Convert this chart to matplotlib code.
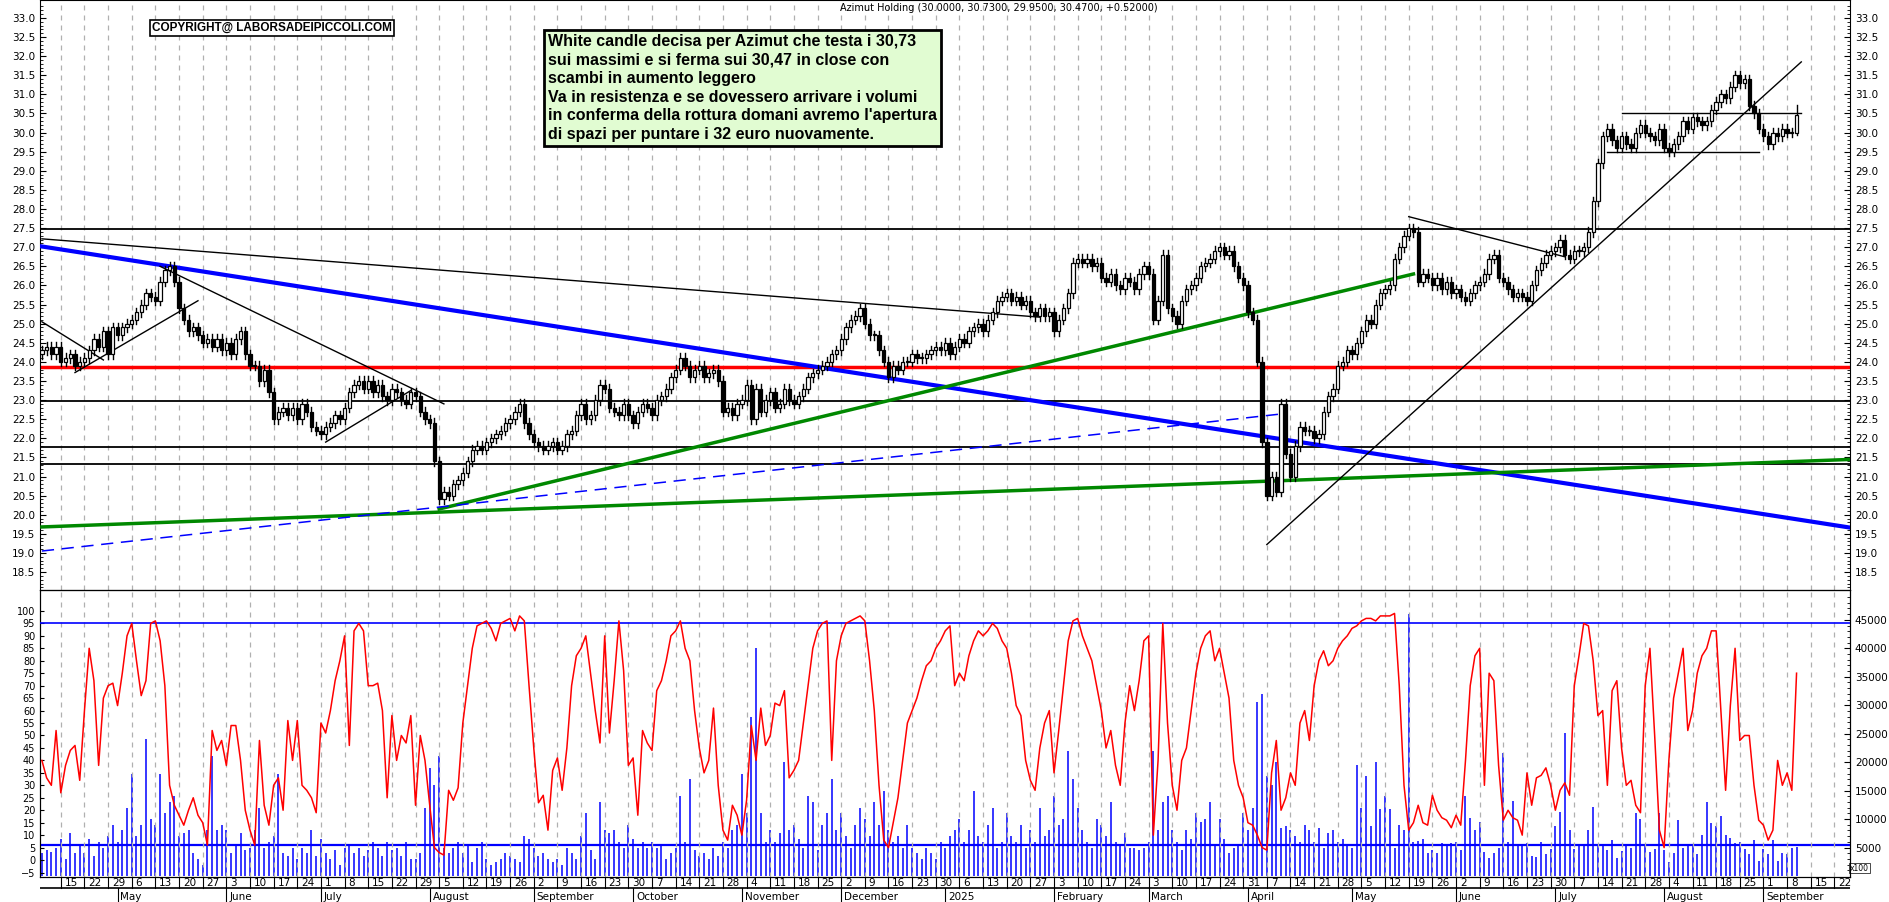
import matplotlib
matplotlib.use("Agg")
import matplotlib.pyplot as plt
import numpy as np
import pandas as pd

START = "2024-04-09"
END_AXIS = "2025-09-26"

# daily closes, one line per week (Mon-Fri)
closes = [
 24.3, 24.4, 24.2, 24.4,
 24.0, 24.1, 24.2, 23.9, 24.0,
 24.1, 24.3, 24.6, 24.4, 24.8,
 24.2, 24.9, 24.7, 24.9, 25.0,
 25.1, 25.3, 25.5, 25.8, 25.7,
 25.6, 26.1, 26.4, 26.5, 26.1,
 25.4, 25.1, 24.8, 24.9, 24.7,
 24.5, 24.6, 24.4, 24.6, 24.3,
 24.5, 24.2, 24.6, 24.8, 24.2,
 23.9, 23.9, 23.5, 23.8, 23.2,
 22.5, 22.7, 22.8, 22.6, 22.8,
 22.5, 22.9, 22.7, 22.3, 22.2,
 22.1, 22.3, 22.4, 22.6, 22.5,
 22.8, 23.2, 23.4, 23.5, 23.3,
 23.5, 23.2, 23.4, 23.1, 23.0,
 23.3, 23.2, 23.0, 22.9, 23.2,
 23.1, 22.7, 22.5, 22.4, 21.4,
 20.4, 20.6, 20.5, 20.8, 20.9,
 21.1, 21.4, 21.7, 21.8, 21.7,
 21.9, 22.0, 22.1, 22.2, 22.4,
 22.5, 22.7, 22.9, 22.4, 22.1,
 21.9, 21.8, 21.7, 21.8, 21.9,
 21.7, 21.8, 22.1, 22.2, 22.6,
 22.9, 22.5, 22.6, 23.0, 23.4,
 23.3, 22.8, 22.7, 22.6, 22.9,
 22.6, 22.4, 22.7, 22.9, 22.8,
 22.6, 23.0, 23.1, 23.3, 23.6,
 23.8, 24.1, 23.9, 23.6, 23.8,
 23.9, 23.6, 23.7, 23.8, 23.5,
 22.7, 22.8, 22.6, 22.9, 23.0,
 23.4, 22.5, 23.3, 22.7, 23.0,
 23.2, 22.8, 22.9, 23.3, 23.0,
 22.9, 23.1, 23.3, 23.6, 23.7,
 23.8, 23.9, 24.0, 24.2, 24.3,
 24.6, 24.9, 25.1, 25.2, 25.4,
 25.0, 24.7, 24.7, 24.3, 24.0,
 23.6, 23.9, 23.8, 24.0, 24.0,
 24.2, 24.1, 24.1, 24.2, 24.3,
 24.4, 24.3, 24.5, 24.2, 24.4,
 24.6, 24.5, 24.8, 24.9, 25.0,
 24.8, 25.1, 25.3, 25.6, 25.7,
 25.8, 25.6, 25.7, 25.5, 25.6,
 25.3, 25.2, 25.4, 25.2, 25.3,
 24.8, 25.1, 25.4, 25.8, 26.6,
 26.7, 26.6, 26.7, 26.5, 26.6,
 26.2, 26.1, 26.3, 26.0, 25.9,
 26.2, 26.1, 25.9, 26.3, 26.5,
 26.3, 25.1, 25.6, 26.8, 25.4,
 25.2, 25.0, 25.6, 25.9, 26.0,
 26.2, 26.5, 26.6, 26.7, 26.9,
 27.0, 26.8, 26.9, 26.5, 26.2,
 26.0, 25.3, 25.1, 24.0, 21.9,
 20.5, 21.0, 20.6, 22.9, 21.6,
 21.0, 21.8, 22.3, 22.2, 22.2,
 22.0, 22.1, 22.7, 23.1, 23.3,
 23.9, 24.0, 24.3, 24.2, 24.5,
 24.8, 25.1, 25.0, 25.5, 25.8,
 25.9, 26.0, 26.7, 27.0, 27.3,
 27.5, 27.4, 26.1, 26.3, 26.2,
 26.0, 26.2, 25.9, 26.1, 25.8,
 25.9, 25.7, 25.6, 25.8, 26.0,
 26.1, 26.3, 26.7, 26.8, 26.2,
 26.1, 25.9, 25.7, 25.8, 25.7,
 25.6, 26.0, 26.4, 26.6, 26.8,
 26.9, 27.0, 27.2, 26.8, 26.7,
 26.9, 26.9, 27.0, 27.4, 28.2,
 29.2, 29.9, 30.1, 29.8, 29.6,
 29.9, 29.7, 29.6, 30.0, 30.2,
 30.0, 29.9, 29.8, 30.1, 29.6,
 29.5, 29.7, 29.9, 30.3, 30.1,
 30.4, 30.3, 30.2, 30.3, 30.6,
 30.8, 31.0, 30.9, 31.2, 31.5,
 31.3, 31.4, 30.7, 30.5, 30.1,
 29.9, 29.7, 30.0, 29.9, 30.1,
 30.0, 30.0, 30.47,
]
first_open = 24.2
last_ohlc = [30.00, 30.73, 29.95, 30.47]

oscillator = [
 40, 33, 30, 52,
 27, 38, 44, 46, 32,
 60, 85, 72, 38, 65,
 70, 71, 62, 75, 90,
 95, 80, 66, 72, 95,
 96, 88, 70, 30, 22,
 18, 14, 20, 25, 18,
 15, 6, 52, 44, 48,
 38, 54, 54, 40, 20,
 12, 6, 48, 22, 14,
 30, 33, 20, 56, 40,
 56, 30, 28, 25, 19,
 55, 51, 60, 72, 80,
 90, 46, 92, 95, 92,
 70, 70, 71, 60, 25,
 58, 40, 50, 47, 58,
 22, 50, 40, 22, 5,
 3, 2, 28, 24, 29,
 55, 70, 85, 94, 95,
 96, 93, 88, 95, 96,
 97, 92, 98, 96, 70,
 45, 23, 26, 12, 36,
 41, 28, 45, 70, 82,
 85, 90, 75, 60, 47,
 90, 51, 72, 96, 76,
 38, 41, 18, 52, 47,
 44, 68, 72, 80, 90,
 92, 96, 85, 80, 60,
 45, 35, 40, 61, 30,
 12, 8, 22, 18, 10,
 24, 54, 40, 61, 46,
 50, 63, 62, 68, 33,
 36, 40, 55, 70, 85,
 92, 95, 96, 40, 80,
 90, 95, 96, 97, 98,
 96, 80, 60, 30, 8,
 5, 15, 25, 40, 55,
 60, 65, 72, 78, 80,
 85, 88, 92, 94, 70,
 75, 72, 82, 88, 92,
 90, 92, 95, 93, 88,
 85, 75, 62, 58, 40,
 32, 28, 45, 55, 60,
 35, 52, 70, 88, 96,
 97, 90, 85, 80, 70,
 60, 45, 52, 38, 30,
 55, 70, 60, 72, 88,
 90, 10, 40, 95, 55,
 30, 20, 40, 45, 60,
 75, 85, 90, 92, 80,
 85, 75, 65, 40, 30,
 25, 15, 14, 10, 5,
 4, 35, 48, 20, 25,
 35, 30, 55, 60, 48,
 70, 80, 84, 78, 80,
 85, 88, 90, 93, 94,
 96, 97, 97, 96, 98,
 98, 98, 99, 70, 30,
 12, 15, 22, 15, 14,
 26, 20, 17, 16, 13,
 18, 14, 40, 70, 82,
 85, 30, 75, 72, 38,
 16, 20, 17, 16, 10,
 35, 22, 33, 34, 37,
 30, 20, 28, 31, 26,
 70, 82, 95, 94, 80,
 58, 60, 30, 68, 72,
 45, 30, 32, 22, 19,
 70, 85, 50, 12, 5,
 40, 65, 75, 85, 52,
 60, 75, 82, 85, 92,
 92, 60, 28, 62, 85,
 48, 50, 50, 30, 16,
 14, 8, 12, 40, 30,
 35, 28, 75,
]

volume = [
 4000, 4500, 4200, 5000,
 6500, 3000, 7500, 4000, 5500,
 4000, 6500, 3500, 6000, 5000,
 7000, 9000, 6000, 8000, 12000,
 18000, 7000, 9000, 24000, 10000,
 9000, 18000, 11000, 13000, 14000,
 7000, 7500, 8000, 4000, 3000,
 2000, 8000, 21000, 8000, 9000,
 8000, 4000, 5500, 7500, 4500,
 5000, 8000, 12000, 5000, 6000,
 7000, 18000, 4000, 3500, 5000,
 3000, 5000, 4000, 8000, 3500,
 6500, 4000, 3000, 4500, 2000,
 5000, 5500, 4000, 5000, 3500,
 4500, 6000, 5000, 3500, 6000,
 4500, 5000, 3500, 6000, 3000,
 3000, 4000, 12000, 19000, 16000,
 21000, 5000, 4000, 5000, 6000,
 4000, 5500, 2500, 5000, 6000,
 3000, 2000, 2500, 3000, 4000,
 3500, 3000, 2500, 7000, 6500,
 5000, 3500, 4000, 3000, 2500,
 3000, 2000, 5000, 4000, 3000,
 7000, 11000, 4500, 3000, 13000,
 8000, 7500, 8000, 6000, 5000,
 9000, 6500, 5000, 6000, 5000,
 6000, 5000, 5500, 3000, 4000,
 5000, 14000, 6000, 17000, 4500,
 3500, 4000, 3000, 5000, 3500,
 6000, 5000, 8000, 9000, 18000,
 11000, 28000, 40000, 11000, 6000,
 8000, 6000, 7500, 20000, 8000,
 9000, 6500, 5000, 14000, 13000,
 4500, 9000, 11000, 17000, 8000,
 11000, 7000, 5000, 9000, 12000,
 10000, 7000, 13000, 9000, 15000,
 8000, 6000, 7000, 5000, 9000,
 5000, 4000, 3000, 5000, 4000,
 3000, 6000, 5000, 7000, 8000,
 10000, 6000, 8000, 15000, 7000,
 6000, 9000, 12000, 5000, 6000,
 11000, 7000, 6000, 9000, 5000,
 8000, 6000, 12000, 7000, 8000,
 14000, 9000, 10000, 22000, 17000,
 12000, 8000, 6000, 5000, 10000,
 9000, 7000, 13000, 6000, 5500,
 7500, 5000, 5000, 4500, 5000,
 6000, 22000, 8000, 13000, 14000,
 8000, 6000, 4500, 8000, 6500,
 11000, 9500, 10000, 13000, 5500,
 10000, 6500, 4000, 5000, 5500,
 11000, 8000, 12000, 30500, 32000,
 17500, 16000, 20000, 8500, 8800,
 8000, 7000, 6000, 9000, 8000,
 6000, 8500, 5000, 7500, 8000,
 6000, 6500, 5500, 5000, 19500,
 12000, 17500, 8800, 20000, 11800,
 14000, 11800, 5000, 9000, 8000,
 46000, 6000, 6200, 6500, 4000,
 4500, 4000, 5800, 5700, 5800,
 6000, 4500, 14000, 10200, 8000,
 9500, 4200, 3200, 4000, 5000,
 21600, 6000, 13200, 5700, 5500,
 5800, 3500, 3400, 6000, 3800,
 4800, 8800, 11200, 25200, 8000,
 4800, 5200, 5300, 8000, 12200,
 5300, 5500, 4600, 6300, 3200,
 4400, 5700, 5000, 11000, 10000,
 5200, 4300, 4800, 11000, 4500,
 2400, 4000, 9800, 5000, 5700,
 5600, 3800, 7200, 13000, 9300,
 8800, 10500, 7200, 6700, 5800,
 6000, 4800, 3900, 6300, 2600,
 4700, 3900, 6300, 2600, 4100,
 3800, 5000, 5100,
]

h_levels = [27.48, 22.97, 21.77, 21.32]
red_level = 23.87
osc_level = 95
vol_level = 5500

# trendlines: (start date, start price, end date, end price)
blue_thick = ("2024-04-08", 27.02, "2025-09-26", 19.65)
black_long = ("2024-04-08", 27.22, "2025-01-29", 25.17)
green_a = ("2024-08-05", 20.15, "2025-05-20", 26.3)
green_b = ("2024-04-08", 19.68, "2025-09-26", 21.45)
blue_dash = ("2024-04-08", 19.05, "2025-04-11", 22.65)
thin_lines = [
 ("2024-04-09", 25.05, "2024-04-26", 24.05),
 ("2024-04-18", 23.72, "2024-05-24", 25.6),
 ("2024-05-14", 26.5, "2024-08-06", 22.9),
 ("2024-07-02", 21.9, "2024-07-26", 23.25),
 ("2025-04-07", 19.22, "2025-09-11", 31.85),
 ("2025-05-19", 27.8, "2025-07-03", 26.75),
 ("2025-07-21", 30.52, "2025-09-11", 30.52),
 ("2025-07-16", 29.5, "2025-08-29", 29.5),
]

title = "Azimut Holding (30.0000, 30.7300, 29.9500, 30.4700, +0.52000)"
copyright_txt = "COPYRIGHT@ LABORSADEIPICCOLI.COM"
note = ("White candle decisa per Azimut che testa i 30,73\n"
        "sui massimi e si ferma sui 30,47 in close con\n"
        "scambi in aumento leggero\n"
        "Va in resistenza e se dovessero arrivare i volumi\n"
        "in conferma della rottura domani avremo l'apertura\n"
        "di spazi per puntare i 32 euro nuovamente.")
month_names = {1: "2025", 2: "February", 3: "March", 4: "April", 5: "May", 6: "June",
               7: "July", 8: "August", 9: "September", 10: "October",
               11: "November", 12: "December"}

# ---------------------------------------------------------------
all_dates = pd.bdate_range(START, END_AXIS)
n = len(closes)

def xi(s):
    d = pd.Timestamp(s)
    return float(np.searchsorted(all_dates.values, np.datetime64(d)))

opens = [first_open] + closes[:-1]
opens[-1] = last_ohlc[0]
highs = [max(o, c) + 0.12 for o, c in zip(opens, closes)]
lows = [min(o, c) - 0.12 for o, c in zip(opens, closes)]
highs[-1] = last_ohlc[1]; lows[-1] = last_ohlc[2]

W, H = 1890, 902
fig = plt.figure(figsize=(W / 100, H / 100), dpi=100)
fig.patch.set_facecolor("white")
L, R = 40 / W, 1850 / W
ax = fig.add_axes([L, 1 - 590 / H, R - L, 590 / H])
axl = fig.add_axes([L, 1 - 877 / H, R - L, 287 / H], sharex=ax)
axv = axl.twinx()

mondays = [i for i, d in enumerate(all_dates) if d.weekday() == 0]
xmin = xi("2024-04-15") - 4.4
xmax = xi("2025-09-22") + 3.3
ax.set_xlim(xmin, xmax)

for a in (ax, axl):
    for m in mondays:
        a.axvline(m, color="#b0b0b0", lw=0.9, ls=(0, (4, 4)), zorder=0)

ax.set_ylim(18.03, 33.47)
for lv in h_levels:
    ax.axhline(lv, color="black", lw=1.3, zorder=2)
ax.axhline(red_level, color="#ff0000", lw=2.5, zorder=2)

def seg(a, spec, **kw):
    s0, p0, s1, p1 = spec
    a.plot([xi(s0), xi(s1)], [p0, p1], **kw)

seg(ax, blue_thick, color="#0000ff", lw=3, zorder=3)
seg(ax, black_long, color="black", lw=1, zorder=3)
seg(ax, green_a, color="#008800", lw=2.5, zorder=3)
seg(ax, green_b, color="#008800", lw=2.5, zorder=3)
seg(ax, blue_dash, color="#0000ff", lw=1.1, ls=(0, (8, 5)), zorder=3)
for t in thin_lines:
    seg(ax, t, color="black", lw=1, zorder=3)

cw = 0.7
for i in range(n):
    o, c, h, l = opens[i], closes[i], highs[i], lows[i]
    ax.plot([i, i], [l, h], color="black", lw=1, zorder=4)
    up = c >= o
    ax.add_patch(plt.Rectangle((i - cw / 2, min(o, c)), cw, max(abs(c - o), 0.02),
                               facecolor="white" if up else "black",
                               edgecolor="black", lw=0.9, zorder=5))

ax.set_yticks(np.arange(18.5, 33.01, 0.5))
ax.set_yticks(np.arange(18.1, 33.4, 0.1), minor=True)
ax.yaxis.set_major_formatter(matplotlib.ticker.FormatStrFormatter("%.1f"))
ax.tick_params(axis="y", which="both", left=True, right=True, labelleft=True,
               labelright=True, labelsize=7.5, direction="in", length=4)
ax.tick_params(axis="y", which="minor", length=2)
ax.tick_params(axis="x", bottom=False, labelbottom=False)

ax.text(0.53, 0.995, title, transform=ax.transAxes, ha="center", va="top", fontsize=7)
fig.text(152 / W, 1 - 28 / H, copyright_txt, fontsize=8.5, fontweight="bold",
         family="Liberation Sans", ha="left", va="center",
         bbox=dict(boxstyle="square,pad=0.2", facecolor="white", edgecolor="black", lw=1.2))
fig.text(548 / W, 1 - 34 / H, note, fontsize=11.5, fontweight="bold", family="Liberation Sans",
         ha="left", va="top", linespacing=1.3,
         bbox=dict(boxstyle="square,pad=0.25", facecolor="#e1fcd2", edgecolor="black", lw=2))

axl.set_ylim(-6.8, 108.4)
axv.set_ylim(-170, 50240)
vx = np.arange(n)
axv.vlines(vx, 0, volume, color="#0000ff", lw=1.1, zorder=2)
axv.axhline(vol_level, color="#0000ff", lw=1.6, zorder=3)
axl.axhline(osc_level, color="#0000ff", lw=1.2, zorder=3)
axl.set_zorder(axv.get_zorder() + 1)
axl.patch.set_visible(False)
axl.plot(vx, oscillator, color="#ff0000", lw=1.1, zorder=4)

axl.set_yticks(np.arange(-5, 101, 5))
axl.tick_params(axis="y", labelsize=7, direction="in", length=3)
axv.set_yticks(np.arange(5000, 45001, 5000))
axv.tick_params(axis="y", labelsize=7.5, direction="in", length=4)
axv.set_yticks(np.arange(1000, 50000, 1000), minor=True)
axv.tick_params(axis="y", which="minor", length=2, direction="in")
axl.tick_params(axis="x", bottom=False, labelbottom=False)
axv.text(1.0, 0.015, "x100", transform=axv.transAxes, fontsize=5.5, ha="left", va="bottom",
         bbox=dict(boxstyle="square,pad=0.1", facecolor="white", edgecolor="black", lw=0.5))

axd = fig.add_axes([L, 0, R - L, 25 / H], sharex=ax)
axd.set_ylim(0, 1)
axd.axis("off")
axd.axhline(0.55, color="black", lw=1.2)
for m in mondays:
    if xmin < m < xmax:
        axd.plot([m, m], [0.55, 1.0], color="black", lw=0.8)
        axd.text(m + 0.8, 0.78, str(all_dates[m].day), fontsize=7.5, va="center", ha="left")
prev = None
for i, d in enumerate(all_dates):
    if prev is not None and d.month != prev.month and xmin < i < xmax:
        axd.plot([i, i], [0.0, 0.55], color="black", lw=0.8)
        axd.text(i + 0.6, 0.22, month_names[d.month], fontsize=7.5, va="center", ha="left")
    prev = d

fig.savefig("out.png", dpi=100, facecolor="white")
